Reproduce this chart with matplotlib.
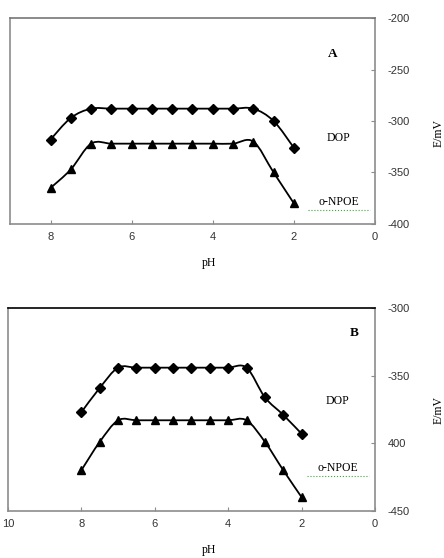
import numpy as np
import matplotlib
matplotlib.use("Agg")
import matplotlib.pyplot as plt
from matplotlib.path import Path
from matplotlib.patches import PathPatch

# --- data ---
ph_a = [8, 7.5, 7, 6.5, 6, 5.5, 5, 4.5, 4, 3.5, 3, 2.5, 2]
dop_a = [-318, -297, -288, -288, -288, -288, -288, -288, -288, -288, -288, -300, -326]
npoe_a = [-365, -347, -322, -322, -322, -322, -322, -322, -322, -322, -320, -350, -380]

ph_b = [8, 7.5, 7, 6.5, 6, 5.5, 5, 4.5, 4, 3.5, 3, 2.5, 2]
dop_b = [-377, -359, -344, -344, -344, -344, -344, -344, -344, -344, -366, -379, -393]
npoe_b = [-420, -399, -383, -383, -383, -383, -383, -383, -383, -383, -399, -420, -440]

xticks_a = [8, 6, 4, 2, 0]
yticks_a = [-200, -250, -300, -350, -400]
xticks_b = [10, 8, 6, 4, 2, 0]
yticks_b = [-300, -350, -400, -450]
yticklabels_b = ["-300", "-350", "400", "-450"]

GRAY = "#8c8c8c"
SERIF = "Liberation Serif"
SANS = "Liberation Sans"


def smooth_line(ax, xs, ys, lw=1.3):
    # Excel-like smoothed line: Catmull-Rom segments as cubic Beziers
    pts = np.column_stack([xs, ys]).astype(float)
    n = len(pts)
    verts = [pts[0]]
    codes = [Path.MOVETO]
    for i in range(n - 1):
        p0 = pts[i - 1] if i > 0 else pts[i]
        p1 = pts[i]
        p2 = pts[i + 1]
        p3 = pts[i + 2] if i + 2 < n else pts[i + 1]
        c1 = p1 + (p2 - p0) / 6.0
        c2 = p2 - (p3 - p1) / 6.0
        verts += [c1, c2, p2]
        codes += [Path.CURVE4] * 3
    ax.add_patch(PathPatch(Path(verts, codes), fill=False, lw=lw, color="black", zorder=2))


def panel(ax, xs, dop, npoe, xlim, ylim, xticks, yticks, yticklabels, letter, letter_pos,
          dop_pos, npoe_pos, ylab_y, top_color):
    smooth_line(ax, xs, dop)
    smooth_line(ax, xs, npoe)
    ax.plot(xs, dop, linestyle="none", marker="D", ms=4.8, color="black", zorder=3)
    ax.plot(xs, npoe, linestyle="none", marker="^", ms=6, color="black", zorder=3)
    ax.set_xlim(*xlim)
    ax.set_ylim(*ylim)
    ax.set_xticks(xticks)
    ax.set_yticks(yticks)
    ax.set_yticklabels(yticklabels)
    ax.yaxis.tick_right()
    ax.tick_params(axis="both", direction="in", length=3, color=GRAY, labelsize=8,
                   labelcolor="#333333")
    ax.tick_params(axis="x", pad=6)
    ax.tick_params(axis="y", pad=9)
    for lab in ax.get_xticklabels() + ax.get_yticklabels():
        lab.set_fontfamily(SANS)
    for side in ["left", "bottom", "right"]:
        ax.spines[side].set_color(GRAY)
        ax.spines[side].set_linewidth(1.2)
    ax.spines["top"].set_color(top_color)
    ax.spines["top"].set_linewidth(1.2)
    ax.text(*letter_pos, letter, transform=ax.transAxes, ha="center", va="center",
            fontsize=9.5, fontweight="bold", family=SERIF)
    ax.text(*dop_pos, "DOP", transform=ax.transAxes, ha="center", va="center",
            fontsize=8.5, family=SERIF)
    ax.text(*npoe_pos, "o-NPOE", transform=ax.transAxes, ha="center", va="center",
            fontsize=8.5, family=SERIF)
    # spell-check underline under o-NPOE
    ax.plot([npoe_pos[0] - 0.085, npoe_pos[0] + 0.085], [npoe_pos[1] - 0.04] * 2,
            transform=ax.transAxes, color="#3aa83a", lw=0.8, ls=":", clip_on=False)
    ax.set_ylabel("E/mV", family=SERIF, fontsize=8.5, rotation=90)
    ax.yaxis.set_label_position("right")
    ax.yaxis.set_label_coords(1.157, ylab_y)


fig = plt.figure(figsize=(4.44, 5.58), dpi=100)
fig.patch.set_facecolor("white")

ax_a = fig.add_axes([0.0225, 0.5986, 0.8221, 0.3691])
panel(ax_a, ph_a, dop_a, npoe_a, (9, 0), (-400, -200), xticks_a, yticks_a,
      [str(v) for v in yticks_a], "A", (0.885, 0.825), (0.899, 0.417), (0.901, 0.107),
      0.44, "#777777")

ax_b = fig.add_axes([0.018, 0.0848, 0.8266, 0.3627])
panel(ax_b, ph_b, dop_b, npoe_b, (10, 0), (-450, -300), xticks_b, yticks_b,
      yticklabels_b, "B", (0.943, 0.878), (0.899, 0.543), (0.899, 0.212),
      0.497, "black")

fig.text(209 / 444, 1 - 263 / 558, "pH", ha="center", va="center", fontsize=8.5, family=SERIF)
fig.text(209 / 444, 1 - 550 / 558, "pH", ha="center", va="center", fontsize=8.5, family=SERIF)

fig.savefig("out.png", dpi=100)
